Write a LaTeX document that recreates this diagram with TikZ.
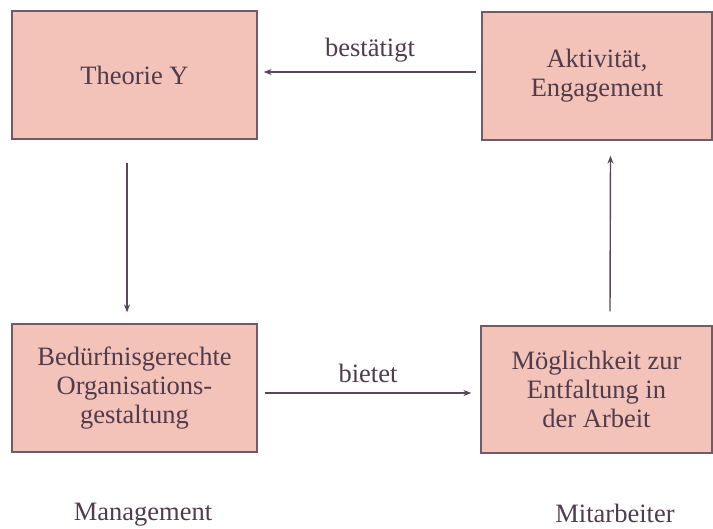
\documentclass[tikz,border=0pt]{standalone}
\usepackage{fontspec}
\setmainfont{Liberation Serif}
\usetikzlibrary{arrows.meta}
\definecolor{boxfill}{RGB}{243,194,184}
\definecolor{boxline}{RGB}{112,92,104}
\definecolor{ink}{RGB}{80,60,76}
\definecolor{arrowink}{RGB}{88,72,88}
\tikzset{
  box/.style={draw=boxline, line width=1.2pt, fill=boxfill, text=ink,
    align=center, inner sep=0pt,
    font=\fontsize{26.5}{29}\selectfont},
  caption/.style={text=ink, font=\fontsize{26.5}{29}\selectfont},
  heading/.style={caption, inner sep=0pt, anchor=base},
  flow/.style={draw=arrowink, line width=1.4pt,
    -{Stealth[length=8pt,width=6pt]}}
}
\begin{document}
\begin{tikzpicture}[x=1pt,y=-1pt]
  \useasboundingbox (0,0) rectangle (713,529);
  % the four boxes of the cycle
  \node[box, minimum width=245pt, minimum height=128pt] (theory) at (134.5,75) {Theorie Y};
  \node[box, minimum width=230pt, minimum height=128pt] (active) at (597,76) {Aktivität,\\Engagement};
  \node[box, minimum width=245pt, minimum height=128pt] (organ) at (134.5,388) {Bedürfnisgerechte\\Organisations-\\gestaltung};
  \node[box, minimum width=231pt, minimum height=127pt] (chance) at (596.5,389.5) {Möglichkeit zur\\Entfaltung in\\der Arbeit};
  % connectors
  \draw[flow] ([xshift=-7.5pt,yshift=-23pt]theory.south) -- ([xshift=-7.5pt,yshift=11pt]organ.north);
  \draw[flow] ([xshift=7pt,yshift=-5pt]organ.east) -- node[caption, above=6pt] (offers) {bietet} ([xshift=-9pt,yshift=-3.5pt]chance.west);
  \draw[flow] ([xshift=13.5pt,yshift=14pt]chance.north) -- ([xshift=13.5pt,yshift=-15pt]active.south);
  \draw[flow] ([xshift=-5pt,yshift=4pt]active.west) -- node[caption, above=6pt] (confirms) {bestätigt} ([xshift=6pt,yshift=3pt]theory.east);
  % column headings
  \node[heading] (mgmt) at (143,521) {Management};
  \node[heading] (staff) at (615,522) {Mitarbeiter};
\end{tikzpicture}
\end{document}
